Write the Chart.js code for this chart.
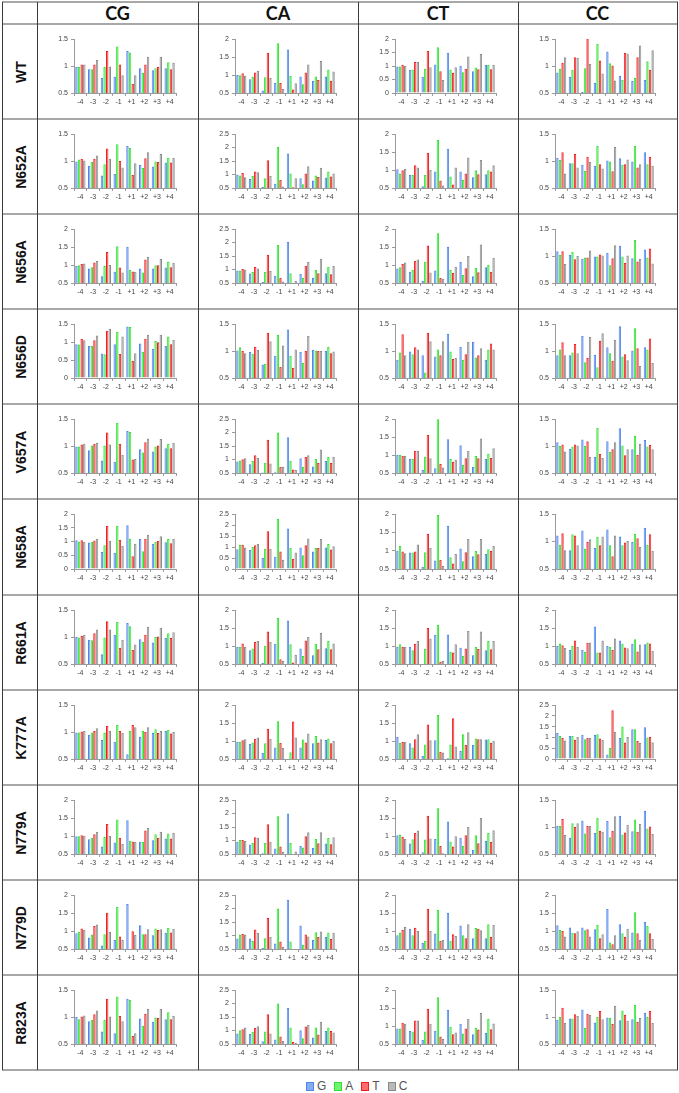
<!DOCTYPE html>
<html><head><meta charset="utf-8">
<script src="https://cdn.jsdelivr.net/npm/chart.js@4.4.1/dist/chart.umd.min.js"></script>
<style>
html,body{margin:0;padding:0;background:#fff;}
#wrap{position:relative;width:679px;height:1093px;overflow:hidden;background:#fff;}
.hl{position:absolute;height:2px;background:#a8a8a8;}
.vl{position:absolute;width:1px;background:#3a3a3a;}
.hdr{position:absolute;font-family:Lato,'Open Sans',sans-serif;font-weight:700;font-size:18px;color:#111;text-align:center;}
.rl{position:absolute;font-family:'Liberation Sans',Arial,sans-serif;font-weight:700;font-size:14px;color:#111;text-align:center;transform:rotate(-90deg);white-space:nowrap;}
canvas{position:absolute;}
#legend{position:absolute;left:306px;top:1079px;width:114px;height:14px;font-family:'Liberation Sans',Arial,sans-serif;font-size:12px;color:#555;white-space:nowrap;}
#legend span.item{display:inline-block;margin-right:8px;}
#legend span.box{display:inline-block;width:6px;height:7px;border:1px solid;vertical-align:-1px;margin-right:3px;}
</style></head><body><div id="wrap"></div>
<script>
// ---- categories ----
const positions = ['-4','-3','-2','-1','+1','+2','+3','+4'];
const mutants = ['WT','N652A','N656A','N656D','V657A','N658A','R661A','K777A','N779A','N779D','R823A'];
const contexts = ['CG','CA','CT','CC'];
const bases = ['G','A','T','C'];

// ---- y-axis ranges (per context, per mutant row) ----
const yMinCG = [0.5,0.5,0.5,0,0.5,0,0.5,0.5,0.5,0.5,0.5];
const yMaxCG = [1.5,1.5,2,1.5,1.5,2,1.5,1.5,2,2,1.5];
const yMinCA = [0.5,0.5,0.5,0.5,0.5,0,0.5,0.5,0.5,0.5,0.5];
const yMaxCA = [2,2.5,2.5,1.5,2.5,2.5,2,2,2.5,2.5,2.5];
const yMinCT = [0,0.5,0.5,0.5,0.5,0.5,0.5,0.5,0.5,0.5,0.5];
const yMaxCT = [2,2,2,1.5,2,2,2,2,2,2,2];
const yMinCC = [0.5,0.5,0.5,0.5,0.5,0.5,0.5,0,0.5,0.5,0.5];
const yMaxCC = [1.5,1.5,1.5,1.5,1.5,1.5,2,2.5,1.5,2,1.5];

// ---- values: [G, A, T, C] at positions -4..+4 ----
const WT_CG = [[0.98,0.94,0.78,0.80,1.28,0.96,0.92,0.96],[0.98,0.94,0.98,1.36,1.25,0.87,0.96,1.07],[1.03,1.03,1.28,1.03,0.67,1.03,0.98,0.94],[1.03,1.11,0.99,0.83,0.83,1.17,1.17,1.06]];
const WT_CA = [[1.00,0.88,0.57,0.78,1.71,0.96,0.83,0.96],[0.99,0.96,0.94,1.88,0.97,0.74,0.96,1.15],[1.05,1.07,1.62,0.78,0.60,1.07,0.86,0.84],[0.98,1.12,0.92,0.62,0.77,1.29,1.39,1.10]];
const WT_CT = [[0.98,0.85,0.60,1.06,1.49,1.01,0.81,1.05],[0.98,0.87,0.90,1.69,0.87,0.77,0.94,1.05],[1.05,1.15,1.56,0.81,0.74,0.90,0.88,0.88],[1.00,1.15,0.95,0.48,0.95,1.35,1.44,1.05]];
const WT_CC = [[0.88,0.80,0.52,0.69,1.27,0.82,0.72,0.74],[0.95,0.93,0.96,1.41,1.05,0.74,0.78,1.09],[1.06,1.16,1.51,1.10,1.01,1.24,1.16,0.93],[1.16,1.15,1.04,0.86,0.73,1.23,1.38,1.29]];

const N652A_CG = [[0.99,0.91,0.73,0.76,1.28,0.93,0.90,0.97],[1.03,0.98,0.94,1.31,1.24,0.87,0.99,1.06],[1.04,1.04,1.23,1.00,0.74,1.05,0.98,0.97],[1.01,1.10,1.04,0.88,0.96,1.16,1.13,1.06]];
const N652A_CA = [[1.00,0.83,0.54,0.66,1.78,0.86,0.78,0.89],[0.96,0.94,0.86,2.03,1.04,0.64,0.96,1.11],[1.06,1.11,1.53,0.81,0.53,1.04,0.91,0.93],[0.90,1.08,0.94,0.56,0.86,1.31,1.25,1.04]];
const N652A_CT = [[1.02,0.86,0.55,0.96,1.59,0.96,0.80,0.88],[0.90,0.86,0.86,1.83,0.82,0.73,0.99,0.99],[0.99,1.13,1.48,0.71,0.60,0.90,0.88,0.96],[1.03,1.07,1.00,0.57,1.07,1.35,1.28,1.13]];
const N652A_CC = [[1.06,0.96,0.93,0.91,1.01,1.05,0.99,1.16],[1.02,0.96,0.82,1.28,0.99,0.93,1.28,0.94],[1.16,1.13,1.08,0.94,0.81,0.94,0.88,1.08],[0.77,0.88,0.98,0.86,1.26,1.03,0.94,0.91]];

const N656A_CG = [[0.97,0.90,0.69,0.81,1.51,0.90,0.90,0.93],[0.99,0.94,0.97,1.52,0.87,0.79,0.99,1.10],[1.03,1.07,1.36,0.93,0.82,1.15,0.99,0.94],[1.04,1.11,1.00,0.79,0.81,1.23,1.17,1.06]];
const N656A_CA = [[0.96,0.85,0.54,0.77,2.03,0.83,0.69,0.86],[0.96,0.91,0.91,1.91,0.86,0.69,0.98,1.10],[1.02,1.09,1.55,0.69,0.50,1.14,0.86,0.82],[1.00,1.04,0.94,0.56,0.57,1.28,1.40,1.13]];
const N656A_CT = [[0.90,0.81,0.56,0.85,1.51,1.08,0.69,0.94],[0.94,0.86,1.09,1.88,0.86,0.72,0.92,1.01],[1.03,1.11,1.54,0.64,0.78,0.91,0.80,0.81],[1.07,1.15,0.79,0.62,0.95,1.25,1.57,1.20]];
const N656A_CC = [[1.09,1.02,0.95,0.99,1.06,1.19,0.96,1.12],[1.02,1.08,0.97,0.99,0.83,0.99,1.30,0.97],[1.09,0.94,0.97,1.03,0.96,0.87,0.90,1.14],[0.85,1.00,1.10,1.01,1.20,1.01,0.95,0.86]];

const N656D_CG = [[0.94,0.89,0.68,0.94,1.43,0.96,0.81,0.89],[0.93,0.89,0.66,1.28,1.42,0.73,1.03,1.15],[1.08,1.05,1.31,0.67,0.47,1.09,0.99,0.94],[1.05,1.18,1.37,1.15,0.69,1.20,1.20,1.06]];
const N656D_CA = [[1.01,0.98,0.75,0.91,1.40,0.98,1.02,1.00],[1.07,0.95,0.76,1.30,0.91,0.78,1.01,1.08],[1.00,1.08,1.34,0.71,0.69,1.00,1.00,0.96],[0.96,1.02,1.18,1.10,1.03,1.28,1.00,0.99]];
const N656D_CT = [[0.84,0.99,0.92,0.90,1.32,1.08,1.17,0.84],[0.97,0.94,0.60,1.03,0.99,0.84,0.88,1.03],[1.31,1.07,1.34,0.92,0.85,0.94,0.92,1.14],[0.92,1.03,1.18,1.18,0.87,1.17,1.05,1.03]];
const N656D_CC = [[0.92,0.92,1.28,0.93,1.07,1.46,1.01,1.07],[1.03,0.97,0.79,0.70,0.96,0.90,1.42,1.03],[1.16,1.13,0.87,1.19,0.82,0.94,1.05,1.23],[0.92,0.96,1.26,1.33,1.21,0.83,0.72,0.78]];

const V657A_CG = [[0.99,0.92,0.73,0.71,1.28,0.94,0.90,0.96],[0.99,1.01,1.01,1.43,1.26,0.88,0.99,1.04],[1.03,1.04,1.25,1.04,0.75,1.07,1.01,0.96],[1.04,1.06,1.03,0.84,0.76,1.14,1.13,1.06]];
const V657A_CA = [[0.93,0.82,0.52,0.53,1.82,1.05,0.74,0.94],[0.96,0.94,0.88,2.00,0.95,0.73,1.02,1.09],[1.01,1.16,1.73,0.73,0.63,1.09,0.87,0.87],[1.05,1.06,0.85,0.73,0.61,1.16,1.37,1.09]];
const V657A_CT = [[1.01,0.89,0.58,0.63,1.44,1.27,0.67,0.89],[1.00,0.89,0.95,1.99,0.89,0.72,0.98,1.04],[0.98,1.12,1.56,0.75,0.81,0.91,0.91,0.92],[0.98,1.12,0.91,0.65,0.87,1.12,1.46,1.19]];
const V657A_CC = [[1.07,0.95,1.12,0.80,1.09,1.33,0.94,1.11],[1.00,0.99,1.00,1.34,0.89,1.01,1.19,0.99],[1.03,1.03,1.09,0.85,0.94,0.83,0.84,1.02],[0.90,1.01,0.80,0.78,1.07,0.94,1.04,0.94]];

const N658A_CG = [[1.05,0.96,0.62,0.59,1.59,1.09,0.92,0.97],[1.00,0.99,0.86,1.57,1.10,0.65,0.99,1.09],[1.05,1.04,1.56,1.06,0.46,1.10,1.03,0.94],[0.99,1.10,1.03,0.85,0.92,1.25,1.19,1.10]];
const N658A_CA = [[0.90,0.86,0.50,0.56,1.84,0.98,0.80,0.98],[1.10,1.00,0.92,2.28,0.95,0.62,0.95,1.14],[1.10,1.08,1.72,0.80,0.47,1.08,0.95,0.89],[0.98,1.14,0.92,0.42,0.75,1.39,1.36,1.03]];
const N658A_CT = [[1.00,0.95,0.56,0.73,1.68,1.06,0.85,0.91],[1.13,0.95,0.96,1.97,0.82,0.71,0.99,1.04],[0.98,0.98,1.46,0.75,0.65,0.96,0.90,0.99],[0.93,1.17,1.07,0.58,0.91,1.32,1.32,1.13]];
const N658A_CC = [[1.11,0.84,1.20,0.88,1.22,1.09,0.99,1.25],[0.94,1.13,0.87,1.08,0.93,0.93,1.14,0.94],[1.15,1.11,0.99,0.93,0.73,0.98,1.06,1.13],[0.84,0.93,1.04,1.09,1.11,1.01,0.90,0.83]];

const R661A_CG = [[1.00,0.95,0.68,1.04,1.26,0.96,0.90,0.98],[0.99,0.94,0.99,1.28,1.20,0.91,1.00,1.07],[1.02,1.07,1.29,0.80,0.76,1.04,1.01,0.98],[1.04,1.14,1.14,0.95,0.86,1.19,1.17,1.09]];
const R661A_CA = [[0.98,0.88,0.53,1.06,1.71,0.93,0.74,0.94],[0.98,0.93,1.01,1.78,1.05,0.72,1.06,1.14],[1.07,1.11,1.40,0.63,0.54,1.15,0.91,0.91],[0.98,1.14,1.12,0.58,0.75,1.25,1.36,1.07]];
const R661A_CT = [[0.98,0.98,0.50,1.31,1.32,0.95,0.74,0.88],[1.05,0.88,0.92,1.59,0.84,0.73,0.97,1.14],[0.98,1.06,1.50,0.57,0.82,0.93,0.92,0.91],[0.98,1.14,1.21,0.59,1.05,1.42,1.40,1.14]];
const R661A_CC = [[1.00,0.89,0.89,1.54,1.00,1.15,1.06,1.05],[1.07,1.00,0.84,0.82,0.98,1.06,1.19,1.10],[1.02,1.15,1.09,0.82,0.89,0.96,0.85,1.07],[0.95,0.97,1.10,1.15,1.21,0.94,1.04,0.87]];

const K777A_CG = [[0.99,0.95,0.85,0.82,0.59,0.91,0.98,1.02],[0.99,0.99,0.99,1.13,1.02,1.02,1.05,1.04],[1.01,1.02,1.11,1.02,1.13,1.00,0.98,0.97],[1.02,1.07,1.02,0.98,1.09,1.09,1.02,1.00]];
const K777A_CA = [[0.98,0.92,0.67,0.82,0.50,0.82,0.94,1.03],[0.98,0.96,0.94,1.55,0.69,1.04,1.14,1.07],[1.02,1.06,1.34,0.95,1.54,0.96,0.96,0.94],[1.05,1.10,1.06,0.81,1.10,1.21,1.05,1.01]];
const K777A_CT = [[1.11,0.94,0.58,1.02,0.52,0.72,0.89,1.04],[0.95,0.82,0.90,1.72,0.90,1.19,1.07,1.05],[0.97,1.05,1.46,0.70,1.63,0.89,1.05,0.95],[0.98,1.19,1.02,0.68,0.85,1.24,1.05,1.01]];
const K777A_CC = [[1.20,1.06,1.12,1.11,0.21,0.97,1.38,1.47],[1.06,1.06,0.91,1.15,0.52,1.50,1.38,1.00],[0.97,0.89,0.98,0.95,2.26,0.76,0.83,1.02],[0.86,1.02,0.97,0.88,1.26,1.02,0.74,0.77]];

const N779A_CG = [[0.99,0.91,0.71,0.82,1.44,0.84,0.88,0.93],[0.99,0.95,0.97,1.46,0.87,0.83,1.05,1.07],[1.02,1.05,1.33,0.95,0.85,1.15,0.95,0.93],[1.01,1.12,1.00,0.78,0.84,1.22,1.12,1.08]];
const N779A_CA = [[0.95,0.85,0.53,0.70,2.00,0.80,0.73,0.89],[1.02,0.91,0.91,1.90,0.91,0.74,1.06,1.09],[1.02,1.12,1.60,0.78,0.49,1.16,0.90,0.86],[0.98,1.10,0.95,0.58,0.59,1.31,1.31,1.12]];
const N779A_CT = [[1.02,0.79,0.55,0.92,1.40,0.95,0.62,0.87],[1.04,0.91,0.90,1.77,0.85,0.73,1.02,1.08],[0.97,1.08,1.56,0.72,0.71,1.02,0.80,0.84],[0.92,1.15,0.93,0.52,0.99,1.25,1.50,1.16]];
const N779A_CC = [[1.02,0.80,1.12,0.89,1.11,1.21,0.92,1.30],[1.02,1.07,0.88,1.17,0.81,0.86,1.14,0.97],[1.15,1.00,1.02,0.93,0.93,0.90,0.91,1.01],[0.85,1.07,1.02,0.91,1.20,1.04,1.06,0.87]];

const N779D_CG = [[0.94,0.82,0.60,0.75,1.75,1.16,0.88,0.95],[0.98,0.90,0.91,1.67,0.48,0.91,1.07,1.09],[1.07,1.14,1.51,0.85,0.99,0.91,1.03,0.96],[1.03,1.18,0.98,0.75,0.89,1.05,1.05,1.06]];
const N779D_CA = [[0.89,0.89,0.55,0.70,2.32,1.37,0.83,0.95],[1.04,0.80,0.90,2.00,0.78,0.66,1.12,1.11],[1.06,1.22,1.65,0.78,0.48,1.04,0.94,0.87],[1.04,1.10,0.94,0.57,0.49,0.96,1.15,1.10]];
const N779D_CT = [[0.88,1.06,0.67,0.93,1.51,1.15,0.80,0.80],[0.96,0.88,0.72,1.58,0.73,0.88,1.08,1.19],[1.03,1.09,1.62,0.73,0.91,0.80,1.06,0.83],[1.11,1.00,1.00,0.75,0.86,1.19,1.02,1.17]];
const N779D_CC = [[1.16,1.10,1.10,1.05,1.61,1.19,0.96,1.25],[1.03,0.95,1.02,1.17,0.68,0.94,1.52,1.14],[1.00,0.94,1.05,0.80,0.63,0.83,0.94,0.94],[0.85,0.99,0.85,0.91,0.88,1.06,0.75,0.78]];

const R823A_CG = [[1.00,0.92,0.73,0.70,1.34,0.97,0.91,0.96],[0.96,0.95,0.95,1.38,1.32,0.84,0.99,1.09],[1.01,1.05,1.34,1.02,0.65,1.06,0.98,0.96],[1.03,1.12,1.01,0.92,0.70,1.15,1.15,1.02]];
const R823A_CA = [[0.89,0.87,0.60,0.67,1.84,1.01,0.74,0.98],[1.01,0.95,0.96,2.00,1.11,0.71,1.11,1.11],[1.05,1.09,1.60,0.78,0.57,1.15,0.85,0.98],[1.11,1.16,0.89,0.61,0.54,1.20,1.32,0.93]];
const R823A_CT = [[0.93,0.86,0.62,0.87,1.45,1.06,0.77,0.81],[0.93,0.85,0.85,1.80,0.98,0.79,0.95,1.20],[1.09,1.15,1.48,0.71,0.77,0.93,0.90,0.91],[1.06,1.15,1.06,0.64,0.82,1.20,1.36,1.07]];
const R823A_CC = [[0.95,0.97,1.14,0.90,0.99,0.94,0.96,1.08],[1.00,0.97,0.80,1.00,0.98,1.12,1.22,1.00],[1.17,1.05,1.06,1.11,0.87,1.04,0.91,1.11],[0.89,1.02,1.04,0.96,1.21,0.93,0.98,0.89]];

// ---- lookup tables built from the arrays above ----
const DATA = [
  [WT_CG, WT_CA, WT_CT, WT_CC],
  [N652A_CG, N652A_CA, N652A_CT, N652A_CC],
  [N656A_CG, N656A_CA, N656A_CT, N656A_CC],
  [N656D_CG, N656D_CA, N656D_CT, N656D_CC],
  [V657A_CG, V657A_CA, V657A_CT, V657A_CC],
  [N658A_CG, N658A_CA, N658A_CT, N658A_CC],
  [R661A_CG, R661A_CA, R661A_CT, R661A_CC],
  [K777A_CG, K777A_CA, K777A_CT, K777A_CC],
  [N779A_CG, N779A_CA, N779A_CT, N779A_CC],
  [N779D_CG, N779D_CA, N779D_CT, N779D_CC],
  [R823A_CG, R823A_CA, R823A_CT, R823A_CC]
];
const Y_MIN = [yMinCG, yMinCA, yMinCT, yMinCC];
const Y_MAX = [yMaxCG, yMaxCA, yMaxCT, yMaxCC];

// ---- styles / layout ----
const FILL = ['#86acf3', '#6ef46e', '#ff6b6b', '#b9b9b9'];
const EDGE = ['#4f86ec', '#2fe02f', '#ee1f1f', '#8a8a8a'];
const colX = [37, 198, 358, 518, 677];
const tableLeft = 2, tableTop = 2, headerBottom = 24, tableBottom = 1070;
const rowH = (tableBottom - headerBottom) / mutants.length;
const rowY = mutants.map((m, i) => Math.round(headerBottom + rowH * i));
rowY.push(tableBottom);

const wrap = document.getElementById('wrap');
function div(cls, style, text) {
  const d = document.createElement('div');
  d.className = cls;
  Object.assign(d.style, style);
  if (text !== undefined) d.textContent = text;
  wrap.appendChild(d);
  return d;
}

// grid lines
[tableTop, headerBottom].concat(rowY.slice(1)).forEach(y => {
  div('hl', {left: tableLeft + 'px', top: (y - 1) + 'px', width: (colX[4] - tableLeft + 1) + 'px'});
});
[tableLeft].concat(colX).forEach(x => {
  div('vl', {left: x + 'px', top: tableTop + 'px', height: (tableBottom - tableTop) + 'px'});
});

// headers
contexts.forEach((c, i) => {
  div('hdr', {left: colX[i] + 'px', top: '3px', width: (colX[i + 1] - colX[i]) + 'px', lineHeight: '21px'}, c);
});

// row labels
mutants.forEach((m, r) => {
  const cx = (tableLeft + colX[0]) / 2 + 1, cy = (rowY[r] + rowY[r + 1]) / 2;
  const w = 90, h = 20;
  div('rl', {left: (cx - w / 2) + 'px', top: (cy - h / 2) + 'px', width: w + 'px', height: h + 'px', lineHeight: h + 'px'}, m);
});

// charts
const tickFont = {family: "'Liberation Sans', Arial, sans-serif", size: 7};
mutants.forEach((m, r) => {
  contexts.forEach((c, ci) => {
    const cv = document.createElement('canvas');
    const w = colX[ci + 1] - colX[ci] - 1, h = rowY[r + 1] - rowY[r] - 2;
    cv.width = w; cv.height = h;
    cv.style.left = (colX[ci] + 1) + 'px';
    cv.style.top = (rowY[r] + 1) + 'px';
    cv.style.width = w + 'px'; cv.style.height = h + 'px';
    wrap.appendChild(cv);
    new Chart(cv, {
      type: 'bar',
      data: {
        labels: positions,
        datasets: bases.map((b, i) => ({
          label: b,
          data: DATA[r][ci][i],
          backgroundColor: FILL[i],
          borderColor: EDGE[i],
          borderWidth: 1,
          categoryPercentage: 0.82,
          barPercentage: 0.92
        }))
      },
      options: {
        responsive: false, animation: false, devicePixelRatio: 1, events: [],
        layout: {padding: {top: 14, right: 22, left: 0, bottom: 0}},
        plugins: {legend: {display: false}, tooltip: {enabled: false}},
        scales: {
          x: {
            grid: {display: true, drawOnChartArea: false, drawTicks: true, tickLength: 3, color: '#9a9a9a', offset: true},
            border: {color: '#9a9a9a'},
            ticks: {font: tickFont, color: '#444', maxRotation: 0, minRotation: 0, autoSkip: false, padding: 2},
            afterFit: s => { s.height = 25; }
          },
          y: {
            min: Y_MIN[ci][r], max: Y_MAX[ci][r],
            grid: {drawOnChartArea: false, drawTicks: true, tickLength: 3, color: '#9a9a9a'},
            border: {color: '#9a9a9a'},
            ticks: {stepSize: 0.5, autoSkip: false, font: tickFont, color: '#444', padding: 3,
                    callback: v => String(+Number(v).toFixed(2))},
            afterFit: s => { s.width = 36; }
          }
        }
      }
    });
  });
});

// legend
const lg = document.createElement('div');
lg.id = 'legend';
bases.forEach((b, i) => {
  const it = document.createElement('span'); it.className = 'item';
  const bx = document.createElement('span'); bx.className = 'box';
  bx.style.borderColor = EDGE[i]; bx.style.background = FILL[i];
  it.appendChild(bx);
  it.appendChild(document.createTextNode(b));
  lg.appendChild(it);
});
wrap.appendChild(lg);
</script>
</body></html>
